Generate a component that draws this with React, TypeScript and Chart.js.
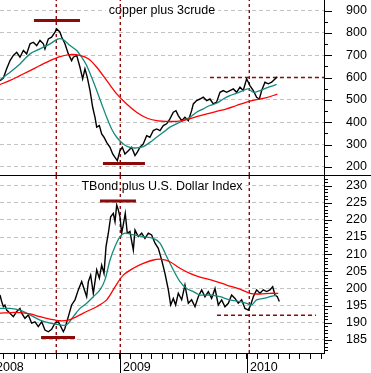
import React, { useEffect, useRef } from "react";
import { Chart, registerables } from "chart.js";

Chart.register(...registerables);

const FONT = "'Liberation Sans', Arial, Helvetica, sans-serif";
const TEAL = "#148a7c";
const RED = "#ff0000";
const DARK_RED = "#8b0a0a";
const GRID = "#c2c2c2";

// x values are months since 1 Jan 2008
const X_MIN = 0;
const X_MAX = 31.28;
const monthTicks = [0, 1, 2, 3, 4, 5, 6, 7, 8, 9, 10, 11, 12, 13, 14, 15, 16, 17, 18, 19, 20, 21, 22, 23, 24, 25, 26, 27, 28, 29, 30, 31];
const yearLabels = ["2008", "2009", "2010"];
const turningMonths = [5.98, 12.03, 24.22];

// ---- copper plus 3crude ----
const copperTicks = [200, 300, 400, 500, 600, 700, 800, 900];
const copperMonths = [0.66, 0.98, 1.29, 1.61, 1.92, 2.24, 2.55, 2.87, 3.18, 3.5, 3.81, 4.13, 4.44, 4.76, 4.91, 5.23, 5.54, 5.86, 6.02, 6.33, 6.49, 6.8, 7.12, 7.43, 7.59, 7.91, 8.22, 8.47, 8.69, 8.91, 9.17, 9.42, 9.64, 9.8, 10.05, 10.27, 10.49, 10.74, 11.06, 11.31, 11.53, 11.75, 12.0, 12.22, 12.47, 12.79, 13.1, 13.42, 13.64, 13.89, 14.2, 14.52, 14.83, 15.15, 15.46, 15.78, 16.09, 16.41, 16.72, 17.04, 17.29, 17.51, 17.83, 18.14, 18.46, 18.77, 18.93, 19.24, 19.56, 19.87, 20.19, 20.5, 20.82, 21.13, 21.45, 21.76, 22.08, 22.39, 22.71, 23.02, 23.34, 23.65, 23.97, 24.13, 24.28, 24.6, 24.91, 25.17, 25.39, 25.7, 26.02, 26.33, 26.65, 26.87];
const copperValues = [586, 598, 639, 676, 699, 713, 691, 721, 706, 751, 758, 743, 766, 751, 728, 773, 781, 803, 818, 803, 781, 751, 706, 676, 691, 699, 646, 594, 639, 601, 542, 467, 422, 378, 385, 348, 333, 310, 288, 258, 243, 228, 273, 288, 258, 273, 288, 251, 266, 288, 303, 340, 333, 363, 370, 363, 385, 393, 415, 445, 452, 430, 407, 422, 407, 452, 482, 497, 504, 512, 497, 504, 482, 490, 534, 542, 534, 542, 549, 534, 557, 542, 594, 579, 564, 542, 512, 504, 542, 579, 572, 579, 594, 604];
const copperFastMonths = [0.66, 1.61, 2.55, 3.5, 4.44, 5.39, 6.17, 6.65, 7.28, 7.91, 8.38, 8.85, 9.32, 9.8, 10.27, 10.74, 11.21, 11.69, 12.31, 12.94, 13.57, 14.2, 14.83, 15.46, 16.09, 16.72, 17.35, 17.98, 18.61, 19.24, 19.87, 20.5, 21.13, 21.76, 22.39, 23.02, 23.65, 24.13, 24.6, 25.23, 25.86, 26.8];
const copperFastMA = [590, 624, 661, 706, 728, 751, 773, 769, 743, 721, 691, 654, 601, 542, 482, 422, 370, 333, 303, 288, 285, 291, 310, 333, 355, 378, 393, 407, 422, 445, 460, 475, 485, 504, 519, 530, 542, 549, 534, 542, 554, 569];
const copperSlowMonths = [0.66, 1.61, 2.55, 3.5, 4.44, 5.39, 6.33, 7.28, 8.22, 9.01, 9.8, 10.74, 11.69, 12.63, 13.57, 14.52, 15.46, 16.41, 17.35, 18.3, 19.24, 20.19, 21.13, 22.08, 23.02, 23.97, 24.91, 25.86, 26.87];
const copperSlowMA = [569, 587, 609, 631, 654, 676, 694, 703, 699, 684, 646, 587, 527, 482, 445, 419, 407, 404, 404, 412, 425, 437, 449, 460, 475, 490, 501, 510, 526];
// [start month, end month, level]
const copperBars = [[3.87, 8.22, 855], [10.39, 14.36, 216]];
const copperDashed = [[20.5, 31.28, 600]];

// ---- TBond plus U.S. Dollar Index ----
const bondTicks = [185, 190, 195, 200, 205, 210, 215, 220, 225, 230];
const bondMonths = [0.66, 0.82, 0.98, 1.13, 1.29, 1.61, 1.92, 2.24, 2.55, 2.71, 3.02, 3.34, 3.65, 3.97, 4.28, 4.6, 4.91, 5.23, 5.54, 5.86, 6.17, 6.33, 6.65, 6.8, 7.12, 7.43, 7.75, 8.06, 8.38, 8.54, 8.85, 9.01, 9.23, 9.48, 9.8, 10.05, 10.27, 10.49, 10.68, 10.9, 11.12, 11.37, 11.53, 11.69, 11.84, 12.0, 12.16, 12.31, 12.5, 12.69, 12.94, 13.26, 13.42, 13.73, 14.05, 14.36, 14.68, 14.99, 15.31, 15.62, 15.94, 16.25, 16.57, 16.79, 17.04, 17.26, 17.51, 17.83, 18.14, 18.46, 18.77, 19.09, 19.4, 19.72, 20.03, 20.35, 20.66, 20.98, 21.29, 21.61, 21.92, 22.24, 22.55, 22.87, 23.18, 23.5, 23.81, 24.13, 24.35, 24.6, 24.91, 25.23, 25.54, 25.86, 26.17, 26.43, 26.65, 26.87, 27.06];
const bondValues = [198.1, 196.2, 194.7, 195.2, 193.7, 192.8, 191.8, 193.3, 194.2, 192.8, 191.3, 192.3, 189.9, 190.3, 188.9, 190.3, 187.9, 187.4, 188.1, 189.9, 190.3, 189.4, 187.4, 188.4, 191.8, 195.2, 196.7, 199.6, 202.0, 200.5, 197.6, 202.0, 203.9, 198.6, 205.4, 203.0, 206.8, 204.4, 212.2, 216.1, 220.9, 221.9, 219.5, 224.3, 222.9, 220.9, 216.1, 218.5, 221.9, 216.1, 216.6, 211.2, 217.0, 215.1, 216.1, 214.6, 216.1, 215.6, 213.2, 211.7, 208.3, 204.4, 199.6, 195.2, 197.1, 195.2, 198.6, 196.7, 201.0, 195.7, 196.7, 194.7, 197.6, 199.6, 197.6, 199.1, 197.1, 200.0, 195.2, 196.7, 194.7, 195.7, 198.1, 197.1, 195.7, 196.7, 194.2, 193.7, 195.2, 197.6, 199.6, 198.6, 199.6, 199.1, 199.6, 200.5, 198.1, 197.6, 196.2];
const bondFastMonths = [0.66, 1.61, 2.55, 3.5, 4.44, 5.39, 6.33, 6.96, 7.59, 8.22, 8.85, 9.48, 10.11, 10.58, 11.06, 11.53, 12.0, 12.47, 13.26, 14.2, 15.15, 15.78, 16.41, 17.04, 17.67, 18.3, 18.93, 19.56, 20.5, 21.45, 22.39, 23.34, 23.97, 24.44, 24.91, 25.54, 26.17, 26.8];
const bondFastMA = [194.2, 194.2, 193.7, 192.3, 190.8, 189.9, 189.4, 189.4, 191.8, 194.2, 195.7, 197.6, 199.6, 202.5, 208.3, 212.2, 215.1, 216.1, 215.6, 215.1, 214.6, 213.2, 209.3, 205.4, 202.0, 200.0, 199.1, 198.1, 198.1, 197.6, 196.7, 196.2, 195.7, 195.2, 196.7, 197.1, 197.6, 198.1];
const bondSlowMonths = [0.66, 1.61, 2.55, 3.5, 4.44, 5.39, 6.33, 7.12, 7.91, 8.85, 9.8, 10.74, 11.53, 12.31, 13.26, 14.2, 15.15, 15.94, 16.72, 17.67, 18.61, 19.56, 20.82, 22.08, 23.34, 24.28, 25.23, 26.17, 26.96];
const bondSlowMA = [192.8, 193.0, 193.0, 192.6, 191.8, 191.1, 190.6, 190.8, 191.8, 193.3, 194.7, 196.7, 200.5, 203.9, 205.9, 207.3, 208.3, 208.5, 207.8, 205.9, 204.4, 203.3, 202.3, 201.0, 199.8, 198.6, 198.4, 198.6, 198.6];
const bondBars = [[10.11, 13.51, 225.5], [4.54, 7.75, 185.7]];
const bondDashed = [[21.17, 30.52, 192.2]];

const pts = (xs: number[], ys: number[]) => xs.map((x, i) => ({ x, y: ys[i] }));

const lineDs = (data: any[], color: string, width: number, order: number, dash: number[] = [], tension = 0) => ({
  type: "line",
  data,
  borderColor: color,
  borderWidth: width,
  borderDash: dash,
  pointRadius: 0,
  fill: false,
  tension,
  order,
  spanGaps: true,
});

interface PanelSpec {
  title: string;
  yMin: number;
  yMax: number;
  ticks: number[];
  minorStep: number;
  months: number[];
  values: number[];
  fastMonths: number[];
  fast: number[];
  slowMonths: number[];
  slow: number[];
  bars: number[][];
  dashed: number[][];
  bottom: boolean;
}

function buildConfig(p: PanelSpec): any {
  const datasets: any[] = [];
  turningMonths.forEach((m) => {
    datasets.push(lineDs(pts([m, m], [p.yMin, p.yMax]), DARK_RED, 1.4, 6, [3, 3]));
  });
  p.dashed.forEach((d) => {
    datasets.push(lineDs(pts([d[0], d[1]], [d[2], d[2]]), DARK_RED, 1.4, 5, [4, 3]));
  });
  datasets.push(lineDs(pts(p.months, p.values), "#000000", 1.4, 4));
  datasets.push(lineDs(pts(p.fastMonths, p.fast), TEAL, 1.3, 3, [], 0.3));
  datasets.push(lineDs(pts(p.slowMonths, p.slow), RED, 1.3, 2, [], 0.3));
  p.bars.forEach((b) => {
    datasets.push(lineDs(pts([b[0], b[1]], [b[2], b[2]]), DARK_RED, 3, 1));
  });

  const decor = {
    id: "panelDecor",
    beforeDatasetsDraw(chart: any) {
      const { ctx, chartArea } = chart;
      ctx.save();
      ctx.font = `12.5px ${FONT}`;
      const w = ctx.measureText(p.title).width;
      const cx = chartArea.left + chartArea.width / 2 + 3.5;
      const cy = chartArea.top + 10.5;
      ctx.fillStyle = "#ffffff";
      ctx.fillRect(cx - w / 2 - 3, cy - 8, w + 6, 16);
      ctx.fillStyle = "#000000";
      ctx.textAlign = "center";
      ctx.textBaseline = "middle";
      ctx.fillText(p.title, cx, cy);
      ctx.restore();
    },
    afterDraw(chart: any) {
      const { ctx, chartArea } = chart;
      const y = chart.scales.y;
      ctx.save();
      ctx.strokeStyle = "#000000";
      ctx.lineWidth = 1;
      ctx.beginPath();
      const start = Math.ceil(y.min / p.minorStep) * p.minorStep;
      for (let v = start; v <= y.max; v += p.minorStep) {
        const py = Math.round(y.getPixelForValue(v)) + 0.5;
        const major = p.ticks.includes(v);
        ctx.moveTo(chartArea.right, py);
        ctx.lineTo(chartArea.right + (major ? 8 : 4), py);
      }
      if (p.bottom) {
        const x = chart.scales.x;
        yearLabels.forEach((_, i) => {
          const px = Math.round(x.getPixelForValue(i * 12)) + 0.5;
          ctx.moveTo(px, chartArea.bottom);
          ctx.lineTo(px, chart.height);
        });
      }
      ctx.stroke();
      ctx.restore();
    },
  };

  const xScale: any = p.bottom
    ? {
        type: "linear",
        min: X_MIN,
        max: X_MAX,
        afterBuildTicks: (s: any) => {
          s.ticks = monthTicks.map((v) => ({ value: v }));
        },
        afterFit: (s: any) => {
          s.height = 20;
          s.paddingLeft = 0;
          s.paddingRight = 0;
        },
        grid: { drawOnChartArea: false, drawTicks: true, tickLength: 6, color: "#000000", lineWidth: 1 },
        border: { display: true, color: "#000000", width: 1 },
        ticks: {
          autoSkip: false,
          maxRotation: 0,
          minRotation: 0,
          align: "start",
          labelOffset: 3,
          padding: 1,
          color: "#000000",
          font: { family: FONT, size: 12.5 },
          callback: (v: number) => (v % 12 === 0 ? yearLabels[v / 12] : ""),
        },
      }
    : { type: "linear", min: X_MIN, max: X_MAX, display: false };

  return {
    type: "line",
    data: { datasets },
    options: {
      responsive: false,
      maintainAspectRatio: false,
      animation: false,
      devicePixelRatio: 1,
      events: [],
      parsing: false,
      normalized: true,
      layout: { padding: 0, autoPadding: false },
      plugins: { legend: { display: false }, tooltip: { enabled: false }, title: { display: false } },
      scales: {
        x: xScale,
        y: {
          type: "linear",
          position: "right",
          min: p.yMin,
          max: p.yMax,
          afterBuildTicks: (s: any) => {
            s.ticks = p.ticks.map((v) => ({ value: v }));
          },
          afterFit: (s: any) => {
            s.width = 47;
            s.paddingTop = 0;
            s.paddingBottom = 0;
          },
          grid: { color: GRID, lineWidth: 1, drawTicks: false },
          border: { display: true, color: "#000000", width: 1, dash: [4, 3] },
          ticks: { color: "#000000", padding: 22, font: { family: FONT, size: 12.5 } },
        },
      },
    },
    plugins: [decor],
  };
}

const topPanel: PanelSpec = {
  title: "copper plus 3crude",
  yMin: 164,
  yMax: 947,
  ticks: copperTicks,
  minorStep: 50,
  months: copperMonths,
  values: copperValues,
  fastMonths: copperFastMonths,
  fast: copperFastMA,
  slowMonths: copperSlowMonths,
  slow: copperSlowMA,
  bars: copperBars,
  dashed: copperDashed,
  bottom: false,
};

const bottomPanel: PanelSpec = {
  title: "TBond plus U.S. Dollar Index",
  yMin: 181.21,
  yMax: 232.77,
  ticks: bondTicks,
  minorStep: 1,
  months: bondMonths,
  values: bondValues,
  fastMonths: bondFastMonths,
  fast: bondFastMA,
  slowMonths: bondSlowMonths,
  slow: bondSlowMA,
  bars: bondBars,
  dashed: bondDashed,
  bottom: true,
};

export default function App() {
  const topRef = useRef<HTMLCanvasElement>(null);
  const botRef = useRef<HTMLCanvasElement>(null);

  useEffect(() => {
    document.body.style.margin = "0";
    const c1 = new Chart(topRef.current as HTMLCanvasElement, buildConfig(topPanel));
    const c2 = new Chart(botRef.current as HTMLCanvasElement, buildConfig(bottomPanel));
    return () => {
      c1.destroy();
      c2.destroy();
    };
  }, []);

  return (
    <div style={{ position: "fixed", left: 0, top: 0, width: 371, height: 373, overflow: "hidden", background: "#ffffff" }}>
      <canvas ref={topRef} width={378} height={175} style={{ position: "absolute", left: -7, top: 0, width: 378, height: 175 }} />
      <div style={{ position: "absolute", left: 0, top: 175, width: 371, height: 1, background: "#000000" }} />
      <canvas ref={botRef} width={378} height={197} style={{ position: "absolute", left: -7, top: 176, width: 378, height: 197 }} />
    </div>
  );
}
